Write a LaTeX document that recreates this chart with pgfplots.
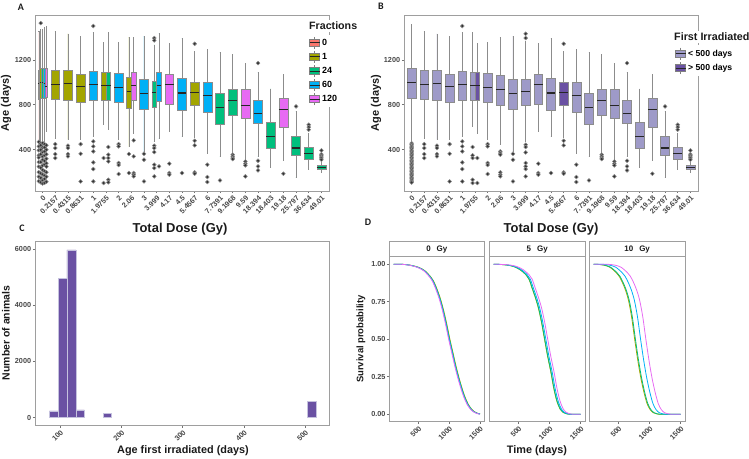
\documentclass[border=0pt]{standalone}
\usepackage{pgfplots}
\pgfplotsset{compat=1.18}
\usepgfplotslibrary{statistics}
\usepackage{fontspec}
\setmainfont{Liberation Sans}
\newfontfamily\lett{Carlito}
\definecolor{cR}{HTML}{F8766D}
\definecolor{cO}{HTML}{A3A500}
\definecolor{cG}{HTML}{00BF7D}
\definecolor{cB}{HTML}{00B0F6}
\definecolor{cM}{HTML}{E76BF3}
\definecolor{cL}{HTML}{9E9AC8}
\definecolor{cD}{HTML}{6A51A3}
\definecolor{txt}{HTML}{1A1A1A}
\newcommand{\fs}[1]{\fontsize{#1}{#1}\selectfont}
\pgfplotsset{
 ax/.style={scale only axis, anchor=south west,
  axis line style={draw=black!38, line width=0.6bp},
  tick align=outside, major tick length=2.2bp,
  tick style={draw=black!55, line width=0.5bp},
  tick pos=left,
  tick label style={font=\fs{7.3}\bfseries, text=black!72},
  /pgf/number format/assume math mode=true,
  /pgf/number format/1000 sep={},
  scaled ticks=false,
  xticklabel style={rotate=45, anchor=north east, inner sep=1bp},
  yticklabel style={inner sep=1.5bp},
 },
 bx/.style={draw=black!45, line width=0.55bp, mark=*, mark size=1.9bp,
   mark options={draw=none, fill=black!80},
   boxplot/draw direction=y,
   boxplot/every median/.style={draw=black!85, line width=1.1bp},
   boxplot/whisker extend=0.05},
 bxleg/.style={legend cell align=left,
   legend image code/.code={
     \draw[black!50, line width=0.5bp] (5bp,-6bp) -- (5bp,6bp);
     \draw[##1, draw=black!50, line width=0.5bp] (0bp,-3.5bp) rectangle (10bp,3.5bp);
     \draw[black!85, line width=1bp] (0bp,0bp) -- (10bp,0bp);}},
 cv/.style={line width=0.8bp, smooth, no markers},
}
\newcommand{\bxp}[8]{\addplot[bx, fill=#1, boxplot prepared={draw position=#2, box extend=#3, lower whisker=#4, lower quartile=#5, median=#6, upper quartile=#7, upper whisker=#8}]}
\begin{document}
\begin{tikzpicture}
\useasboundingbox (0,0) rectangle (749bp,-459bp);
% ---------------- Panel A
\begin{axis}[ax, bxleg, name=axA, at={(35bp,-191bp)}, width=294bp, height=176bp,
 xmin=-0.6, xmax=22.6, ymin=33, ymax=1598,
 xtick={0,...,22}, xticklabels={0,0.2157,0.4315,0.8631,1,1.9755,2,2.06,3,3.999,4.17,4.5,5.4567,6,7.7391,9.1968,9.59,18.394,18.403,19.18,25.797,36.634,49.01},
 ytick={400,800,1200},
 legend style={at={(axis description cs:0.925,0.89)}, anchor=north west, draw=none, fill=white, inner xsep=2bp, inner ysep=2bp, row sep=1.6bp, font=\fs{9}\bfseries},
]
\addlegendimage{fill=cR}\addlegendentry{0}
\addlegendimage{fill=cO}\addlegendentry{1}
\addlegendimage{fill=cG}\addlegendentry{24}
\addlegendimage{fill=cB}\addlegendentry{60}
\addlegendimage{fill=cM}\addlegendentry{120}
\bxp{cR}{-0.3}{0.15}{480}{850}{990}{1110}{1455} coordinates {(-0.3,470)(-0.3,430)(-0.3,395)(-0.3,350)(-0.3,330)(-0.3,290)(-0.3,250)(-0.3,200)(-0.3,160)(-0.3,120)};
\bxp{cO}{-0.15}{0.15}{470}{860}{1000}{1120}{1470} coordinates {(-0.15,1526)(-0.15,455)(-0.15,440)(-0.15,400)(-0.15,360)(-0.15,290)(-0.15,240)(-0.15,190)(-0.15,150)(-0.15,110)};
\bxp{cG}{0}{0.15}{470}{855}{995}{1120}{1470} coordinates {(0,460)(0,420)(0,380)(0,340)(0,310)(0,260)(0,220)(0,180)(0,130)(0,100)};
\bxp{cB}{0.15}{0.15}{460}{860}{985}{1125}{1485} coordinates {(0.15,450)(0.15,420)(0.15,385)(0.15,350)(0.15,300)(0.15,270)(0.15,210)(0.15,170)(0.15,140)(0.15,105)};
\bxp{cM}{0.3}{0.15}{560}{865}{965}{1125}{1500} coordinates {(0.3,440)(0.3,400)(0.3,360)(0.3,320)(0.3,280)(0.3,250)(0.3,200)(0.3,160)(0.3,115)};
\bxp{cO}{1}{0.7}{500}{846}{980}{1105}{1450} coordinates {(1,450)(1,415)(1,361)(1,326)};
\bxp{cO}{2}{0.7}{495}{844}{990}{1110}{1431} coordinates {(2,436)(2,415)(2,361)(2,341)};
\bxp{cO}{3}{0.7}{489}{818}{960}{1067}{1405} coordinates {(3,450)(3,364)(3,118)};
\bxp{cB}{4}{0.7}{519}{844}{984}{1096}{1440} coordinates {(4,1500)(4,474)(4,430)(4,385)(4,287)(4,228)(4,118)};
\bxp{cO}{4.8125}{0.375}{622}{844}{969}{1087}{1354} coordinates {(4.8125,326)(4.8125,104)};
\bxp{cG}{5.1875}{0.375}{578}{838}{969}{1093}{1443} coordinates {(5.1875,424)(5.1875,356)(5.1875,326)(5.1875,296)(5.1875,133)(5.1875,110)};
\bxp{cB}{6}{0.7}{495}{821}{957}{1076}{1354} coordinates {(6,450)(6,430)(6,282)(6,264)(6,184)};
\bxp{cO}{6.8125}{0.375}{430}{770}{919}{1046}{1401} coordinates {(6.8125,362)(6.8125,193)};
\bxp{cM}{7.1875}{0.375}{548}{844}{969}{1087}{1401} coordinates {(7.1875,483)(7.1875,341)(7.1875,193)(7.1875,178)(7.1875,163)};
\bxp{cB}{8}{0.7}{385}{761}{898}{1028}{1407} coordinates {(8,364)(8,311)(8,118)};
\bxp{cG}{8.8125}{0.375}{474}{779}{910}{1013}{1333} coordinates {(8.8125,1393)(8.8125,1372)(8.8125,436)(8.8125,415)(8.8125,379)(8.8125,267)(8.8125,237)(8.8125,163)};
\bxp{cB}{9.1875}{0.375}{504}{830}{969}{1093}{1437} coordinates {(9.1875,252)};
\bxp{cM}{10}{0.7}{563}{806}{978}{1073}{1348} coordinates {(10,276)(10,193)(10,178)};
\bxp{cB}{11}{0.7}{519}{750}{904}{1031}{1393} coordinates {(11,193)};
\bxp{cO}{12}{0.7}{513}{791}{910}{998}{1274} coordinates {(12,1342)(12,480)(12,439)(12,199)(12,187)};
\bxp{cB}{13}{0.7}{370}{732}{880}{1001}{1289} coordinates {(13,267)(13,157)(13,113)};
\bxp{cG}{14}{0.7}{341}{628}{776}{904}{1268} coordinates {(14,127)};
\bxp{cG}{15}{0.7}{370}{705}{841}{939}{1250} coordinates {(15,356)(15,341)(15,326)(15,317)};
\bxp{cM}{16}{0.7}{317}{684}{794}{942}{1170} coordinates {(16,296)(16,276)(16,261)(16,163)};
\bxp{cB}{17}{0.7}{341}{634}{726}{836}{1090} coordinates {(17,1170)(17,302)(17,252)(17,216)};
\bxp{cG}{18}{0.7}{243}{412}{518}{643}{942} coordinates {};
\bxp{cM}{19}{0.7}{302}{604}{756}{856}{1073} coordinates {(19,187)};
\bxp{cG}{20}{0.7}{157}{350}{415}{518}{740} coordinates {(20,785)};
\bxp{cG}{21}{0.7}{222}{311}{364}{421}{548} coordinates {(21,622)(21,601)(21,578)};
\bxp{cG}{22}{0.7}{201}{222}{243}{264}{285} coordinates {(22,394)(22,360)(22,347)(22,335)(22,326)(22,311)};
\end{axis}
% ---------------- Panel B
\begin{axis}[ax, bxleg, name=axB, at={(404bp,-191bp)}, width=294bp, height=176bp,
 xmin=-0.6, xmax=22.6, ymin=33, ymax=1598,
 xtick={0,...,22}, xticklabels={0,0.2157,0.4315,0.8631,1,1.9755,2,2.06,3,3.999,4.17,4.5,5.4567,6,7.7391,9.1968,9.59,18.394,18.403,19.18,25.797,36.634,49.01},
 ytick={400,800,1200},
 legend style={at={(axis description cs:0.915,0.828)}, anchor=north west, draw=none, fill=white, inner xsep=2bp, inner ysep=2bp, row sep=2bp, font=\fs{8.7}\bfseries},
]
\addlegendimage{fill=cL}\addlegendentry{< 500 days}
\addlegendimage{fill=cD}\addlegendentry{> 500 days}
\bxp{cL}{0}{0.7}{470}{859}{996}{1128}{1515} coordinates {(0,458)(0,445)(0,432)(0,420)(0,408)(0,395)(0,382)(0,370)(0,358)(0,345)(0,330)(0,318)(0,305)(0,292)(0,280)(0,268)(0,255)(0,242)(0,230)(0,218)(0,205)(0,192)(0,180)(0,168)(0,155)(0,142)(0,130)(0,118)(0,108)};
\bxp{cL}{1}{0.7}{500}{846}{980}{1105}{1450} coordinates {(1,450)(1,415)(1,361)(1,326)};
\bxp{cL}{2}{0.7}{495}{844}{990}{1110}{1431} coordinates {(2,436)(2,415)(2,361)(2,341)};
\bxp{cL}{3}{0.7}{489}{818}{960}{1067}{1405} coordinates {(3,450)(3,364)(3,118)};
\bxp{cL}{4}{0.7}{519}{844}{984}{1096}{1440} coordinates {(4,1500)(4,474)(4,430)(4,385)(4,287)(4,228)(4,118)};
\bxp{cL}{4.8125}{0.375}{607}{844}{969}{1093}{1446} coordinates {(4.8125,424)(4.8125,350)(4.8125,326)(4.8125,133)(4.8125,104)};
\bxp{cD}{5.1875}{0.375}{548}{844}{969}{1087}{1348} coordinates {(5.1875,326)(5.1875,104)};
\bxp{cL}{6}{0.7}{495}{821}{957}{1076}{1354} coordinates {(6,450)(6,430)(6,282)(6,264)(6,184)};
\bxp{cL}{7}{0.7}{445}{791}{933}{1064}{1401} coordinates {(7,385)(7,370)(7,356)(7,199)(7,178)(7,163)};
\bxp{cL}{8}{0.7}{385}{761}{898}{1028}{1407} coordinates {(8,364)(8,311)(8,118)};
\bxp{cL}{9}{0.7}{474}{794}{916}{1028}{1363} coordinates {(9,1431)(9,1393)(9,444)(9,424)(9,376)(9,282)(9,252)(9,228)(9,163)};
\bxp{cL}{10}{0.7}{563}{806}{978}{1073}{1348} coordinates {(10,276)(10,193)(10,178)};
\bxp{cL}{11}{0.7}{519}{750}{904}{1031}{1393} coordinates {(11,193)};
\bxp{cD}{12}{0.7}{513}{791}{910}{998}{1274} coordinates {(12,1342)(12,480)(12,439)(12,199)(12,187)};
\bxp{cL}{13}{0.7}{370}{732}{880}{1001}{1289} coordinates {(13,267)(13,157)(13,113)};
\bxp{cL}{14}{0.7}{341}{628}{776}{904}{1268} coordinates {(14,127)};
\bxp{cL}{15}{0.7}{370}{705}{841}{939}{1250} coordinates {(15,356)(15,341)(15,326)(15,317)};
\bxp{cL}{16}{0.7}{317}{684}{794}{942}{1170} coordinates {(16,296)(16,276)(16,261)(16,163)};
\bxp{cL}{17}{0.7}{341}{634}{726}{836}{1090} coordinates {(17,1170)(17,302)(17,252)(17,216)};
\bxp{cL}{18}{0.7}{243}{412}{518}{643}{942} coordinates {};
\bxp{cL}{19}{0.7}{302}{604}{756}{856}{1073} coordinates {(19,187)};
\bxp{cL}{20}{0.7}{157}{350}{415}{518}{740} coordinates {(20,785)};
\bxp{cL}{21}{0.7}{222}{311}{364}{421}{548} coordinates {(21,622)(21,601)(21,578)};
\bxp{cL}{22}{0.7}{201}{222}{243}{264}{285} coordinates {(22,394)(22,360)(22,347)(22,335)(22,326)(22,311)};
\end{axis}
% ---------------- Panel C
\begin{axis}[ax, name=axC, at={(35bp,-425.7bp)}, width=294bp, height=184bp,
 xmin=59, xmax=539, ymin=-290, ymax=6270,
 xtick={100,200,300,400,500}, ytick={0,2000,4000,6000}]
\addplot[ybar interval, fill=cD, draw=cL!60!white, line width=0.5bp] coordinates {(82.5,240)(97.3,4967)(110.9,5975)(125.6,274)(139.7,0)};
\addplot[ybar interval, fill=cD, draw=cL!60!white, line width=0.5bp] coordinates {(169.7,156)(183.8,0)};
\addplot[ybar interval, fill=cD, draw=cL!60!white, line width=0.5bp] coordinates {(503.8,570)(518,0)};
\end{axis}
% ---------------- Panel D
\begin{axis}[ax, name=d1, at={(389.3bp,-421.7bp)}, width=95bp, height=165bp,
 xmin=30, xmax=1570, ymin=-0.05, ymax=1.05, xtick={500,1000,1500},
 ytick={0,0.25,0.5,0.75,1}, yticklabels={0.00,0.25,0.50,0.75,1.00}]
\addplot[cv, cO] coordinates {(100,1)(200,1)(312,.997)(412,.99)(512,.978)(612,.955)(712,.91)(762,.875)(812,.825)(862,.765)(912,.69)(962,.6)(1012,.5)(1062,.41)(1112,.32)(1162,.24)(1212,.17)(1262,.11)(1312,.065)(1362,.035)(1412,.016)(1462,.006)(1500,.002)};
\addplot[cv, cG] coordinates {(100,1)(200,1)(306,.997)(406,.99)(506,.978)(606,.955)(706,.91)(756,.875)(806,.825)(856,.765)(906,.69)(956,.6)(1006,.5)(1056,.41)(1106,.32)(1156,.24)(1206,.17)(1256,.11)(1306,.065)(1356,.035)(1406,.016)(1456,.006)(1500,.002)};
\addplot[cv, cB] coordinates {(100,1)(200,1)(300,.997)(400,.99)(500,.978)(600,.955)(700,.91)(750,.875)(800,.825)(850,.765)(900,.69)(950,.6)(1000,.5)(1050,.41)(1100,.32)(1150,.24)(1200,.17)(1250,.11)(1300,.065)(1350,.035)(1400,.016)(1450,.006)(1500,.001)};
\addplot[cv, cM] coordinates {(100,1)(200,1)(292,.997)(392,.99)(492,.978)(592,.955)(692,.91)(742,.875)(792,.825)(842,.765)(892,.69)(942,.6)(992,.5)(1042,.41)(1092,.32)(1142,.24)(1192,.17)(1242,.11)(1292,.065)(1342,.035)(1392,.016)(1442,.006)(1500,0)};
\end{axis}
\begin{axis}[ax, name=d2, at={(489.3bp,-421.7bp)}, width=95.7bp, height=165bp,
 xmin=30, xmax=1570, ymin=-0.05, ymax=1.05, xtick={500,1000,1500}, ytick=\empty]
\addplot[cv, cO] coordinates {(100,1)(218,.998)(318,.994)(418,.985)(518,.965)(618,.93)(668,.9)(718,.84)(768,.78)(818,.71)(868,.615)(918,.5)(968,.385)(1018,.285)(1068,.17)(1118,.085)(1168,.035)(1218,.012)(1268,.003)(1318,0)(1500,0)};
\addplot[cv, cG] coordinates {(100,1)(222,.998)(322,.994)(422,.985)(522,.965)(622,.93)(672,.9)(722,.84)(772,.78)(822,.71)(872,.615)(922,.5)(972,.385)(1022,.285)(1072,.17)(1122,.085)(1172,.035)(1222,.012)(1272,.003)(1322,0)(1500,0)};
\addplot[cv, cB] coordinates {(100,1)(240,.998)(340,.994)(440,.985)(540,.965)(640,.93)(690,.9)(740,.84)(790,.78)(840,.71)(890,.615)(940,.5)(990,.385)(1040,.285)(1090,.17)(1140,.085)(1190,.035)(1240,.012)(1290,.003)(1340,0)(1500,0)};
\addplot[cv, cM] coordinates {(100,1)(270,.998)(370,.994)(470,.985)(570,.965)(670,.93)(720,.9)(770,.84)(820,.78)(870,.71)(920,.615)(970,.5)(1020,.385)(1070,.285)(1120,.17)(1170,.085)(1220,.035)(1270,.012)(1320,.003)(1370,0)(1500,0)};
\end{axis}
\begin{axis}[ax, name=d3, at={(589.3bp,-421.7bp)}, width=95.7bp, height=165bp,
 xmin=30, xmax=1570, ymin=-0.05, ymax=1.05, xtick={500,1000,1500}, ytick=\empty]
\addplot[cv, cO] coordinates {(100,1)(160,.999)(260,.994)(360,.98)(460,.945)(510,.92)(560,.88)(610,.83)(660,.76)(710,.65)(760,.5)(810,.36)(860,.24)(910,.145)(960,.07)(1010,.03)(1060,.01)(1110,.003)(1160,0)(1500,0)};
\addplot[cv, cG] coordinates {(100,1)(172,.999)(272,.994)(372,.98)(472,.945)(522,.92)(572,.88)(622,.83)(672,.76)(722,.65)(772,.5)(822,.36)(872,.24)(922,.145)(972,.07)(1022,.03)(1072,.01)(1122,.003)(1172,0)(1500,0)};
\addplot[cv, cB] coordinates {(100,1)(155,1)(255,.999)(355,.994)(455,.98)(555,.945)(605,.92)(655,.88)(705,.83)(755,.76)(805,.65)(855,.5)(905,.36)(955,.24)(1005,.145)(1055,.07)(1105,.03)(1155,.01)(1205,.003)(1255,0)(1500,0)};
\addplot[cv, cM] coordinates {(100,1)(240,1)(340,.999)(440,.994)(540,.98)(640,.945)(690,.92)(740,.88)(790,.83)(840,.76)(890,.65)(940,.5)(990,.36)(1040,.24)(1090,.145)(1140,.07)(1190,.03)(1240,.01)(1290,.003)(1340,0)(1500,0)};
\end{axis}
% strips
\foreach \p/\lab in {d1/0, d2/5, d3/10}{
 \draw[black!38, line width=0.6bp, fill=white] (\p.north west) rectangle ([yshift=15bp]\p.north east);
 \draw[black!38, line width=1.4bp] (\p.north west) -- (\p.north east);
 \node[font=\fs{8}\bfseries, text=txt] at ([yshift=7.5bp]\p.north) {\lab\hspace{6bp}Gy};
}
% labels
\begin{scope}[every node/.style={text=txt}]
\node[fill=white, inner sep=2bp, anchor=west, font=\fs{10.7}\bfseries] at (307bp,-26bp) {Fractions};
\node[fill=white, inner sep=2bp, anchor=west, font=\fs{10.8}\bfseries] at (672bp,-36.7bp) {First Irradiated};
\node[font=\lett\fs{10}\bfseries] at (21bp,-7bp) {A};
\node[font=\lett\fs{10}\bfseries] at (381bp,-6bp) {B};
\node[font=\lett\fs{10}\bfseries] at (22bp,-228bp) {C};
\node[font=\lett\fs{10}\bfseries] at (368bp,-222bp) {D};
\node[font=\fs{13}\bfseries] at (180bp,-229bp) {Total Dose (Gy)};
\node[font=\fs{13}\bfseries] at (551bp,-229bp) {Total Dose (Gy)};
\node[font=\fs{11}\bfseries, rotate=90] at (6bp,-103bp) {Age (days)};
\node[font=\fs{11}\bfseries, rotate=90] at (376bp,-103bp) {Age (days)};
\node[font=\fs{10.5}\bfseries, rotate=90] at (6bp,-333bp) {Number of animals};
\node[font=\fs{10.9}\bfseries] at (183bp,-451bp) {Age first irradiated (days)};
\node[font=\fs{9.5}\bfseries, rotate=90] at (361bp,-339bp) {Survival probability};
\node[font=\fs{10.9}\bfseries] at (537bp,-451bp) {Time (days)};
\end{scope}
\end{tikzpicture}
\end{document}
